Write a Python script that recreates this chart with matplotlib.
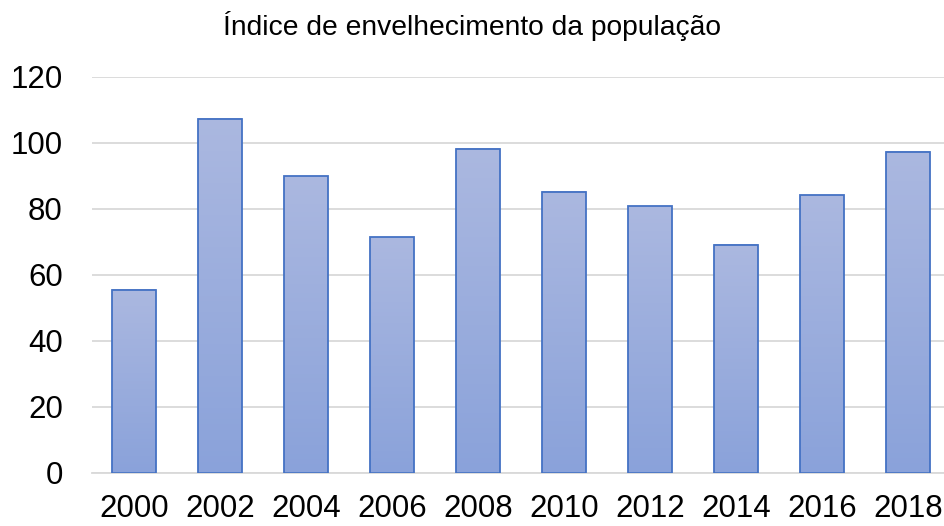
import matplotlib.pyplot as plt
import numpy as np
from matplotlib.colors import LinearSegmentedColormap

years = ['2000', '2002', '2004', '2006', '2008', '2010', '2012', '2014', '2016', '2018']
values = [55.5, 107.3, 90.0, 71.5, 98.2, 85.2, 80.9, 69.1, 84.2, 97.3]

plt.rcParams['font.family'] = ['Liberation Sans', 'DejaVu Sans']

fig = plt.figure(figsize=(9.44, 5.26), dpi=100)
ax = fig.add_axes([92 / 944, 1 - 473 / 526, 852 / 944, 396 / 526])

# gradient fill, lighter at top
cmap = LinearSegmentedColormap.from_list('grad', ['#8AA2DA', '#ABB8E0'])
grad = np.linspace(0, 1, 256).reshape(-1, 1)

width = 0.51
x = np.arange(len(years))
bars = ax.bar(x, values, width=width, facecolor='none', edgecolor='#4472C4',
              linewidth=1.3, zorder=3)
for b in bars:
    x0, y0 = b.get_x(), b.get_y()
    w, h = b.get_width(), b.get_height()
    ax.imshow(grad, cmap=cmap, aspect='auto', origin='lower',
              extent=(x0, x0 + w, y0, y0 + h), zorder=2)

ax.set_xlim(-0.49, 9.42)
ax.set_ylim(0, 120)
ax.set_yticks(range(0, 121, 20))
ax.set_xticks(x)
ax.set_xticklabels(years)
ax.grid(axis='y', color='#D9D9D9', linewidth=1.3, zorder=0)
ax.set_axisbelow(True)
for s in ['top', 'right', 'left']:
    ax.spines[s].set_visible(False)
ax.spines['bottom'].set_color('#D9D9D9')
ax.spines['bottom'].set_linewidth(1.3)
ax.tick_params(axis='both', length=0, labelsize=22.5, colors='black')
ax.tick_params(axis='x', pad=15)
ax.tick_params(axis='y', pad=21)

fig.text(0.5, 1 - 26 / 526, 'Índice de envelhecimento da população',
         ha='center', va='center', fontsize=20.3)

fig.savefig('out.png', dpi=100)
